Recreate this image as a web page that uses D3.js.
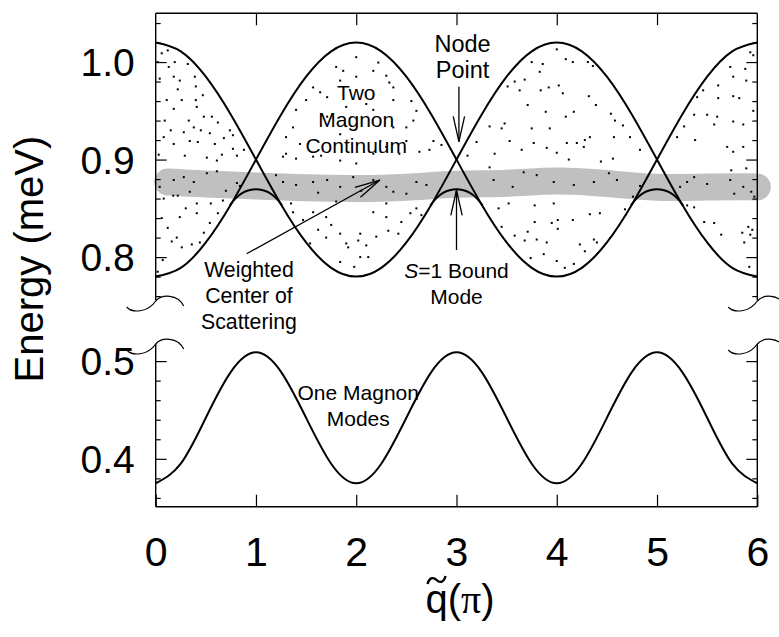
<!DOCTYPE html>
<html><head><meta charset="utf-8">
<script src="https://cdn.jsdelivr.net/npm/d3@7"></script>
<style>body{margin:0;background:#fff}svg{display:block}</style>
</head><body>
<svg id="c" width="779" height="637"></svg>
<script>
// ---------------- data ----------------
const qTicks = [0, 1, 2, 3, 4, 5, 6];
const topTicks = [1, 2, 3, 4, 5];
const upperMajor = [0.8, 0.9, 1.0];
const upperMinor = [0.76, 0.78, 0.82, 0.84, 0.86, 0.88, 0.92, 0.94, 0.96, 0.98, 1.02, 1.04];
const lowerMajor = [0.4, 0.5];
const lowerMinor = [0.36, 0.38, 0.42, 0.44, 0.46, 0.48];

const qGrid = [0,0.25,0.5,0.75,1,1.25,1.5,1.75,2,2.25,2.5,2.75,3,3.25,3.5,3.75,4,4.25,4.5,4.75,5,5.25,5.5,5.75,6];
// two-magnon continuum boundary branches (meV)
const branchA = [1.02,1.011,0.985,0.946,0.90,0.854,0.815,0.789,0.78,0.789,0.815,0.854,0.90,0.946,0.985,1.011,1.02,1.011,0.985,0.946,0.90,0.854,0.815,0.789,0.78];
const branchB = [0.78,0.789,0.815,0.854,0.90,0.946,0.985,1.011,1.02,1.011,0.985,0.946,0.90,0.854,0.815,0.789,0.78,0.789,0.815,0.854,0.90,0.946,0.985,1.011,1.02];
// one-magnon mode (meV)
const oneMagnon = [0.375,0.395,0.442,0.489,0.509,0.489,0.442,0.395,0.375,0.395,0.442,0.489,0.509,0.489,0.442,0.395,0.375,0.395,0.442,0.489,0.509,0.489,0.442,0.395,0.375];
// S=1 bound mode humps
const boundQ1 = [0.74,0.80,0.87,0.93,1.0,1.07,1.13,1.20,1.26];
const boundQ3 = [2.74,2.80,2.87,2.93,3.0,3.07,3.13,3.20,3.26];
const boundQ5 = [4.74,4.80,4.87,4.93,5.0,5.07,5.13,5.20,5.26];
const boundE  = [0.853,0.8605,0.866,0.8685,0.8695,0.8685,0.866,0.8605,0.853];
// weighted centre of scattering (grey band centre)
const bandQ = [0.12,0.5,1,1.5,2,2.5,3,3.5,4,4.5,5,5.5,6];
const bandE = [0.877,0.875,0.873,0.871,0.8703,0.8716,0.8746,0.8757,0.878,0.8754,0.8716,0.8718,0.872];
// scattered intensity points [q, E]
const dots = [
[0.06,1.009],[0.19,1.0],[0.32,0.998],[0.04,0.983],[0.18,0.985],[0.24,0.981],[0.39,0.985],[0.40,0.975],[0.11,0.961],[0.26,0.961],
[0.18,0.952],[0.40,0.961],[0.41,0.954],[0.48,0.944],[0.56,0.944],[0.09,0.94],[0.33,0.94],[0.38,0.933],[0.28,0.928],[0.08,0.923],
[0.18,0.916],[0.34,0.919],[0.42,0.918],[0.74,0.93],[0.77,0.925],[0.59,0.916],[0.54,0.927],[0.29,0.904],[0.51,0.902],[0.61,0.899],
[0.81,0.904],[0.77,0.911],[0.02,1.0],[0.13,0.995],[0.22,0.972],[0.47,0.966],[0.62,0.938],[0.68,0.922],[0.03,0.905],[0.15,0.93],
[0.45,0.93],[0.66,0.905],[0.88,0.91],[0.12,1.012],
[0.28,0.882],[0.38,0.877],[0.34,0.867],[0.51,0.886],[0.61,0.888],[0.81,0.876],[0.84,0.873],[0.04,0.872],[0.18,0.879],[0.70,0.868],[0.22,0.863],
[0.175,0.863],[0.41,0.855],[0.24,0.841],[0.41,0.845],[0.54,0.835],[0.06,0.84],[0.16,0.816],[0.26,0.81],[0.36,0.813],[0.21,0.82],
[0.07,0.797],[0.44,0.815],[0.02,0.785],[0.30,0.85],[0.55,0.855],[0.62,0.845],[0.12,0.83],[0.48,0.825],[0.67,0.858],[0.08,0.86],
[1.57,0.974],[1.64,0.969],[1.71,0.964],[1.84,0.981],[1.87,0.991],[2.0,0.985],[2.17,0.991],[2.22,0.9995],[2.3,0.986],[2.33,0.979],
[2.37,0.974],[1.5,0.961],[1.4,0.951],[1.37,0.933],[1.3,0.923],[1.44,0.916],[1.27,0.903],[1.4,0.901],[1.57,0.903],[1.65,0.904],
[1.84,0.899],[2.0,0.896],[2.17,0.906],[2.43,0.906],[2.5,0.919],[2.63,0.908],[2.37,0.933],[2.5,0.933],[2.57,0.94],[2.24,0.919],
[2.3,0.913],[2.0,1.005],[1.9,0.954],[2.1,0.957],[2.17,0.951],[2.37,0.961],[2.77,0.919],[2.73,0.91],[1.3,0.906],[1.84,0.926],
[1.71,0.944],[1.8,0.995],[2.6,0.95],[2.55,0.96],[2.85,0.915],
[1.27,0.877],[1.4,0.874],[1.57,0.877],[1.71,0.879],[1.84,0.872],[1.97,0.882],[2.17,0.879],[2.3,0.872],[2.37,0.867],[2.5,0.865],
[2.6,0.877],[2.7,0.874],[1.2,0.884],[2.05,0.868],[1.62,0.866],
[1.37,0.846],[1.57,0.846],[1.75,0.833],[1.84,0.824],[2.04,0.824],[2.02,0.817],[1.9,0.814],[2.04,0.8],[1.84,0.795],[1.92,0.81],
[2.17,0.846],[2.30,0.841],[2.32,0.827],[2.42,0.824],[2.54,0.845],[1.70,0.841],[1.47,0.838],[1.54,0.814],[2.20,0.821],[2.10,0.812],
[1.80,0.857],[2.30,0.855],[2.6,0.85],[2.65,0.843],[1.35,0.855],[1.62,0.828],[2.45,0.836],[1.98,0.79],[2.12,0.8],[1.7,0.82],
[4.0,1.013],[3.75,1.0],[3.86,0.998],[4.09,1.003],[4.16,1.0],[4.36,0.996],[4.31,1.0],[3.83,0.99],[3.58,0.98],[3.68,0.982],
[3.51,0.975],[3.63,0.971],[3.84,0.971],[3.92,0.974],[4.02,0.976],[4.06,0.968],[3.71,0.956],[3.89,0.949],[4.09,0.944],[4.17,0.949],
[4.32,0.965],[4.39,0.956],[4.54,0.947],[4.58,0.94],[4.66,0.935],[3.33,0.934],[3.45,0.932],[3.48,0.937],[3.75,0.932],[3.93,0.932],
[4.1,0.917],[4.2,0.917],[4.33,0.923],[4.28,0.92],[4.57,0.923],[4.73,0.923],[4.83,0.91],[3.2,0.918],[3.38,0.906],[3.53,0.919],
[3.65,0.91],[3.77,0.917],[3.9,0.912],[4.0,0.907],[4.12,0.9],[4.27,0.913],[4.44,0.898],[4.56,0.901],[3.11,0.904],[3.33,0.892],
[5.93,1.01],[5.96,1.007],[5.88,0.993],[5.89,0.981],[5.73,0.995],[5.76,0.985],[5.61,0.976],[5.46,0.971],[5.4,0.964],[5.61,0.963],
[5.76,0.965],[5.82,0.963],[5.37,0.946],[5.5,0.946],[5.6,0.944],[5.57,0.936],[5.76,0.939],[5.86,0.936],[5.96,0.95],[5.27,0.934],
[5.38,0.92],[5.7,0.913],[5.76,0.908],[5.86,0.913],[5.2,0.923],[5.74,0.889],[5.89,0.891],
[3.67,0.887],[3.8,0.884],[3.97,0.877],[4.17,0.874],[4.37,0.877],[4.52,0.886],[4.6,0.879],[3.56,0.872],[3.37,0.879],[4.83,0.873],
[5.3,0.877],[5.37,0.882],[5.5,0.875],[5.73,0.879],[5.86,0.872],[5.94,0.867],[5.97,0.862],[5.77,0.865],[5.23,0.872],
[3.42,0.85],[3.52,0.855],[3.78,0.853],[3.97,0.855],[3.45,0.831],[3.71,0.826],[3.78,0.836],[4.01,0.838],[3.95,0.835],[4.01,0.829],
[4.16,0.838],[4.33,0.844],[4.43,0.845],[3.58,0.822],[3.68,0.817],[3.8,0.818],[3.9,0.815],[3.87,0.803],[3.74,0.799],[4.0,0.796],
[4.08,0.789],[4.17,0.793],[4.28,0.806],[4.23,0.813],[4.37,0.818],[4.4,0.815],[4.68,0.849],[4.76,0.862],[5.3,0.853],[5.37,0.851],
[5.47,0.836],[5.57,0.835],[5.64,0.823],[5.85,0.825],[5.91,0.831],[5.95,0.828],[5.93,0.823],[5.87,0.815],[5.92,0.79]
];

// ---------------- drawing ----------------
const FONT = "'Liberation Sans', Arial, Helvetica, sans-serif";
const svg = d3.select("#c");
const L = 155.7, R = 757.3, T = 13.3, B = 506.7, upBottom = 300, loTop = 344;
const x = d3.scaleLinear().domain([0, 6]).range([L, R]);
const yU = d3.scaleLinear().domain([0.756, 1.05]).range([upBottom, T]);
const yL = d3.scaleLinear().domain([0.351, 0.5175]).range([B, loTop]);

// grey band
const band = bandQ.map((q, i) => [q, bandE[i]]);
svg.append("path").datum(band)
  .attr("d", d3.line().x(d => x(d[0])).y(d => yU(d[1])).curve(d3.curveNatural))
  .attr("fill", "none").attr("stroke", "#c0c0c0").attr("stroke-width", 27)
  .attr("stroke-linecap", "round").attr("stroke-linejoin", "round");

// dots
svg.append("g").selectAll("rect").data(dots).join("rect")
  .attr("x", d => x(d[0]) - 1).attr("y", d => yU(d[1]) - 1)
  .attr("width", 2).attr("height", 2).attr("fill", "#000");

// curves
const lineU = d3.line().x(d => x(d[0])).y(d => yU(d[1])).curve(d3.curveNatural);
const lineL = d3.line().x(d => x(d[0])).y(d => yL(d[1])).curve(d3.curveNatural);
const curveStyle = s => s.attr("fill", "none").attr("stroke", "#000").attr("stroke-width", 2);
[branchA, branchB].forEach(arr => {
  svg.append("path").datum(qGrid.map((q, i) => [q, arr[i]])).attr("d", lineU).call(curveStyle);
});
[boundQ1, boundQ3, boundQ5].forEach(qs => {
  svg.append("path").datum(qs.map((q, i) => [q, boundE[i]])).attr("d", lineU).call(curveStyle);
});
svg.append("path").datum(qGrid.map((q, i) => [q, oneMagnon[i]])).attr("d", lineL).call(curveStyle);

// axes
function styleAxis(g) {
  g.select(".domain").remove();
  g.selectAll("line").attr("stroke", "#000").attr("stroke-width", 1.2);
  g.selectAll("text").attr("font-family", FONT).attr("fill", "#000");
}
function yAxes(scale, major, minor) {
  svg.append("g").attr("transform", `translate(${L},0)`)
    .call(d3.axisLeft(scale).tickValues(major).tickSizeInner(-11).tickSizeOuter(0).tickPadding(21).tickFormat(d3.format(".1f")))
    .call(styleAxis).call(g => g.selectAll("text").attr("font-size", 39).attr("dy", "0.35em"));
  svg.append("g").attr("transform", `translate(${L},0)`)
    .call(d3.axisLeft(scale).tickValues(minor).tickSizeInner(-5).tickSizeOuter(0).tickFormat(""))
    .call(styleAxis);
  svg.append("g").attr("transform", `translate(${R},0)`)
    .call(d3.axisRight(scale).tickValues(major).tickSizeInner(-11).tickSizeOuter(0).tickFormat(""))
    .call(styleAxis);
  svg.append("g").attr("transform", `translate(${R},0)`)
    .call(d3.axisRight(scale).tickValues(minor).tickSizeInner(-5).tickSizeOuter(0).tickFormat(""))
    .call(styleAxis);
}
yAxes(yU, upperMajor, upperMinor);
yAxes(yL, lowerMajor, lowerMinor);

svg.append("g").attr("transform", `translate(0,${T})`)
  .call(d3.axisTop(x).tickValues(topTicks).tickSizeInner(-12).tickSizeOuter(0).tickFormat(""))
  .call(styleAxis);
svg.append("g").attr("transform", `translate(0,${B})`)
  .call(d3.axisBottom(x).tickValues(qTicks).tickSizeInner(-12).tickSizeOuter(0).tickPadding(30).tickFormat(d3.format("d")))
  .call(styleAxis).call(g => g.selectAll("text").attr("font-size", 41));

// frame
const frame = svg.append("g").attr("stroke", "#000").attr("stroke-width", 1.4).attr("fill", "none");
[[L, T, R, T], [L, B, R, B], [L, T, L, upBottom], [L, loTop, L, B], [R, T, R, upBottom], [R, loTop, R, B]]
  .forEach(s => frame.append("line").attr("x1", s[0]).attr("y1", s[1]).attr("x2", s[2]).attr("y2", s[3]));

// axis-break braces
const brace = "M-29,7 C-24,13 -8,13 0,1 C6,-6 22,-6 28,6";
[[L, upBottom], [R, upBottom], [L, loTop - 1], [R, loTop - 1]].forEach(p => {
  svg.append("path").attr("d", brace).attr("transform", `translate(${p[0]},${p[1]})`)
    .attr("fill", "none").attr("stroke", "#000").attr("stroke-width", 1.2);
});

// annotations
function arrow(q1, e1, q2, e2) {
  const x1 = x(q1), y1 = yU(e1), x2 = x(q2), y2 = yU(e2);
  const a = Math.atan2(y1 - y2, x1 - x2), len = 26, sp = 0.22;
  const g = svg.append("g").attr("stroke", "#000").attr("stroke-width", 1.3).attr("fill", "none");
  g.append("line").attr("x1", x1).attr("y1", y1).attr("x2", x2).attr("y2", y2);
  [a - sp, a + sp].forEach(b => g.append("line").attr("x1", x2).attr("y1", y2)
    .attr("x2", x2 + len * Math.cos(b)).attr("y2", y2 + len * Math.sin(b)));
}
function label(lines, q, e, scale, size, lh) {
  const t = svg.append("text").attr("font-family", FONT).attr("font-size", size)
    .attr("text-anchor", "middle").attr("fill", "#000");
  lines.forEach((ln, i) => {
    const ts = t.append("tspan").attr("x", x(q)).attr("y", scale(e) + i * lh);
    if (Array.isArray(ln)) ln.forEach(p => ts.append("tspan").attr("font-style", p[1] ? "italic" : null).text(p[0]));
    else ts.text(ln);
  });
}
label(["Node", "Point"], 3.06, 1.0106, yU, 23.5, 26.6);
arrow(3.024, 0.9747, 3.024, 0.9183);
label(["Two", "Magnon", "Continuum"], 2.0, 0.9606, yU, 21, 26.2);
label(["Weighted", "Center of", "Scattering"], 0.93, 0.7799, yU, 21.3, 26);
arrow(0.907, 0.8034, 2.236, 0.879);
label([[["S", true], ["=1 Bound", false]], "Mode"], 3.0, 0.7783, yU, 21, 26);
arrow(3.0, 0.8073, 3.0, 0.8688);
label(["One Magnon", "Modes"], 2.02, 0.4602, yL, 21, 26.5);

// axis titles
svg.append("text").attr("transform", "translate(43,259) rotate(-90)")
  .attr("text-anchor", "middle").attr("font-family", FONT).attr("font-size", 40).text("Energy (meV)");
const xt = svg.append("text").attr("x", 460).attr("y", 613).attr("text-anchor", "middle")
  .attr("font-family", FONT).attr("font-size", 40);
xt.append("tspan").text("q");
xt.append("tspan").text("(");
xt.append("tspan").attr("font-family", "'Liberation Serif', 'Times New Roman', serif").text("π");
xt.append("tspan").text(")");
// tilde accent over the q, drawn as a small wave
const qBox = xt.node().getExtentOfChar(0);
svg.append("path")
  .attr("d", "M-9,4 C-7,-3 -3,-3 0,0 C3,3 7,3 9,-4")
  .attr("transform", `translate(${qBox.x + qBox.width / 2},580)`)
  .attr("fill", "none").attr("stroke", "#000").attr("stroke-width", 2.4);
</script>
</body></html>
